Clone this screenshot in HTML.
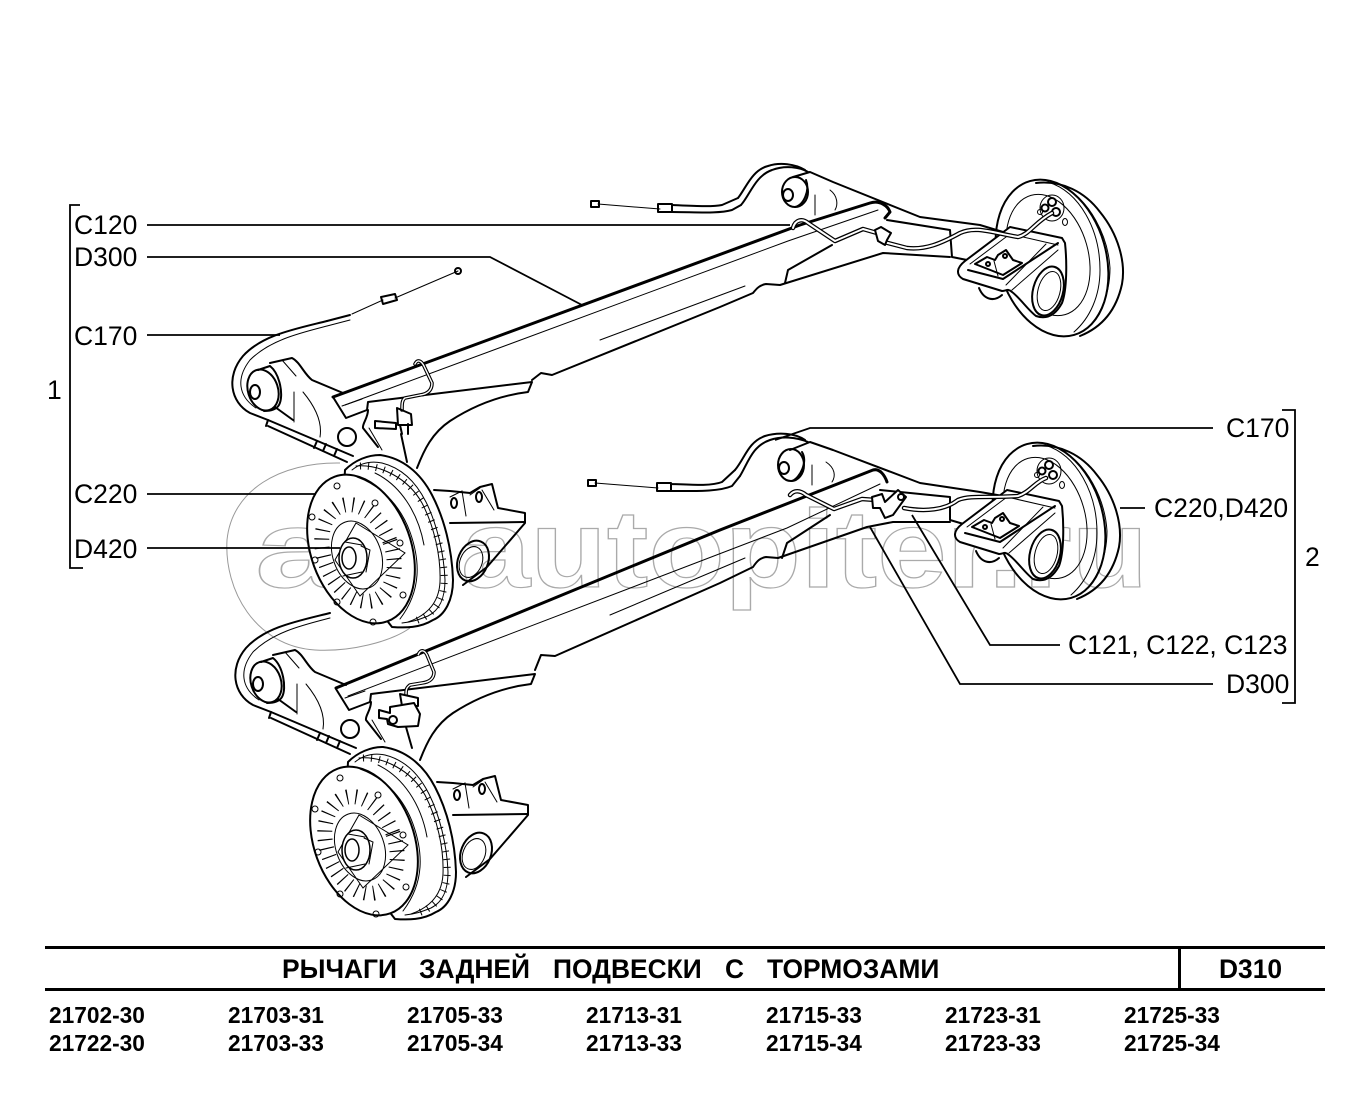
<!DOCTYPE html>
<html><head><meta charset="utf-8"><style>
html,body{margin:0;padding:0;background:#fff}
svg{display:block}
.m{fill:none;stroke:#000;stroke-width:2;stroke-linejoin:round;stroke-linecap:round}
.t{fill:none;stroke:#000;stroke-width:1;stroke-linecap:round}
.b{fill:none;stroke:#000;stroke-width:3;stroke-linejoin:round;stroke-linecap:round}
.l{fill:none;stroke:#000;stroke-width:1.8}
.w{fill:#fff;stroke:#000;stroke-width:2;stroke-linejoin:round}
.wm{fill:none;stroke:#aaa;stroke-width:1.2;font-family:"Liberation Sans",sans-serif;font-weight:bold}
text.lb{font-family:"Liberation Sans",sans-serif;font-size:26.5px;fill:#000}
text.bd{font-family:"Liberation Sans",sans-serif;font-size:26.4px;font-weight:bold;fill:#000}
text.cd{font-family:"Liberation Sans",sans-serif;font-size:22.7px;font-weight:bold;fill:#000}
</style></head><body>
<svg width="1371" height="1112" viewBox="0 0 1371 1112" xmlns="http://www.w3.org/2000/svg">
<rect width="1371" height="1112" fill="#fff"/>
<defs>
<g id="L">
  <!-- cable -->
  <path class="m" d="M327,321C295,329 262,335 243,356C226,376 230,402 250,413L268,420L353,456"/>
  <path class="t" d="M327,326C300,333 270,340 250,360C236,378 238,396 256,408"/>
  <path class="m" d="M268,426L347,462"/>
  <path class="m" d="M268,420L266,426M317,441L314,448M326,444L323,451M337,449L334,456"/>
  <!-- arm -->
  <path class="m" d="M270,363L292,358C300,362 304,374 312,380L343,393"/>
  <path class="t" d="M282,360L296,376M294,392V422M303,392C318,410 322,425 320,437"/>
  <ellipse class="w" cx="263" cy="390" rx="15" ry="21" transform="rotate(-18 263 390)"/>
  <path class="m" d="M258,370L270,366C280,374 284,396 279,405C276,410 270,411 264,411"/>
  <ellipse class="m" cx="255" cy="392" rx="5" ry="7"/>
  <path class="m" d="M275,407L293,420"/>
  <!-- plate -->
  <path class="m" d="M333,397L346,418L367,410L368,402L532,382L528,392C495,396 470,408 450,421C432,433 424,450 417,468"/>
  <path class="t" d="M342,406L362,399"/>
  <path class="m" d="M368,410C368,418 362,424 363,428L378,447"/>
  <path class="t" d="M369,428L382,450"/>
  <circle class="m" cx="347" cy="437" r="9"/>
  <!-- drum -->
  <path class="w" d="M345,470C355,460 368,455 380,455C402,458 420,472 432,495C444,518 452,548 453,580C453,600 445,615 433,620C420,628 405,628 392,627L340,560Z"/>
  <path class="t" d="M352,470C362,462 372,461 382,463C402,468 416,482 426,502C436,522 444,552 445,580C445,598 440,610 428,616C418,620 412,622 402,623"/>
  <path class="t" d="M356,466C380,464 408,478 422,503C434,526 441,556 440,582C439,602 428,615 408,622"/>
  <path fill="none" stroke="#000" stroke-width="7" stroke-dasharray="1 7" d="M360,466C385,465 410,480 424,505C436,528 446,560 444,585C442,605 430,617 412,622"/>
  <ellipse class="w" cx="361" cy="549" rx="50" ry="77" transform="rotate(-20 361 549)"/>
  <path class="t" d="M357,477C385,487 402,510 410,532C420,560 422,590 400,619M375,473C400,485 418,512 424,545"/>
  <ellipse fill="none" stroke="#000" stroke-width="15" stroke-dasharray="1.2 7.6" cx="358" cy="553" rx="34" ry="50" transform="rotate(-20 358 553)"/>
  <ellipse class="t" cx="357" cy="555" rx="24" ry="35" transform="rotate(-20 357 555)"/>
  <path class="t" d="M356,523L405,553L360,596L335,560Z"/>
  <ellipse class="w" cx="353" cy="558" rx="14" ry="20" style="stroke-width:1.5"/>
  <ellipse class="m" cx="349" cy="558" rx="7" ry="11" style="stroke-width:1.5"/>
  <path class="t" d="M345,542L362,545M343,576L362,572M361,546L370,550L366,572"/>
  <g class="t">
   <circle cx="337" cy="486" r="3"/><circle cx="375" cy="503" r="3"/><circle cx="312" cy="517" r="3"/><circle cx="400" cy="543" r="3"/><circle cx="315" cy="560" r="3"/><circle cx="403" cy="595" r="3"/><circle cx="337" cy="602" r="3"/><circle cx="373" cy="622" r="3"/>
  </g>
  <!-- bracket -->
  <path class="m" d="M434,490L450,491L470,493L480,487L492,484L498,508L525,513L525,523L487,567L463,585"/>
  <path class="m" d="M450,523L525,522"/>
  <path class="t" d="M450,497L462,491L466,516M470,495L480,488M482,490L494,510"/>
  <ellipse class="m" cx="454" cy="503" rx="3" ry="5"/><ellipse class="m" cx="479" cy="497" rx="3" ry="5"/>
  <ellipse class="m" cx="473" cy="561" rx="15" ry="21" transform="rotate(22 473 561)"/>
  <ellipse class="t" cx="471" cy="562" rx="11" ry="16" transform="rotate(22 471 562)"/>
</g>
<g id="R">
  <ellipse class="m" cx="1052" cy="258" rx="54" ry="80" transform="rotate(-16 1052 258)"/>
  <path class="m" d="M1036,183C1062,180 1085,192 1100,212C1118,234 1126,262 1122,284C1116,312 1100,328 1080,336"/>
  <path class="t" d="M1062,186C1090,200 1108,236 1110,268C1110,296 1098,322 1082,332M1048,182C1080,192 1100,230 1100,270C1100,296 1090,318 1074,332"/>
  <ellipse class="t" cx="1048" cy="255" rx="40" ry="62" transform="rotate(-16 1048 255)"/>
  <circle class="m" cx="1052" cy="202" r="4"/><circle class="m" cx="1045" cy="208" r="3.5"/><circle class="m" cx="1056" cy="212" r="4"/><circle class="t" cx="1040" cy="212" r="2.5"/><ellipse class="t" cx="1065" cy="222" rx="2.5" ry="3.5"/>
  <ellipse class="t" cx="1052" cy="208" rx="12" ry="13"/>
  <!-- bracket -->
  <path class="w" d="M1062,238L1065,243C1067,262 1067,290 1062,303C1056,314 1048,320 1036,316C1028,310 1020,298 1012,292C1008,288 1006,291 1002,291L963,279C956,275 956,268 965,261L1010,227Z"/>
  <path class="t" d="M970,264L1010,234L1058,245"/>
  <path class="m" d="M968,270L1003,279L1058,243"/>
  <path class="t" d="M1046,244L1006,285M1058,250L1012,290"/>
  <path class="m" d="M975,264L987,257L995,260L998,255L1006,250L1013,260L1022,263L1003,275Z"/>
  <path class="t" d="M994,261L998,276"/>
  <circle class="m" cx="988" cy="264" r="2"/><circle class="m" cx="1005" cy="256" r="2"/>
  <ellipse class="w" cx="1048" cy="291" rx="15" ry="25" transform="rotate(15 1048 291)"/>
  <ellipse class="t" cx="1049" cy="291" rx="11" ry="20" transform="rotate(15 1049 291)"/>
  <path class="m" d="M979,288C984,300 994,302 1002,295"/>
</g>
</defs>

<!-- watermark -->
<g>
  <path fill="none" stroke="#999" stroke-width="1" d="M340,463C280,462 232,490 227,540C224,590 255,646 315,650C350,652 390,642 410,628"/>
  <text class="wm" x="255" y="587" font-size="110" textLength="85" lengthAdjust="spacingAndGlyphs">a</text>
  <text class="wm" x="461" y="587" font-size="110" textLength="687" lengthAdjust="spacingAndGlyphs">autopiter.ru</text>
</g>

<!-- top assembly beam -->
<path class="b" d="M333,397L800,225L870,203C880,200 888,206 890,212L885,218"/>
<path class="t" d="M345,405L788,241L878,210"/>
<path class="m" d="M532,380L541,373L552,375L720,307L753,293C757,288 760,285 766,284L780,285L883,253L950,257"/>
<path class="t" d="M600,340L745,286"/>
<path class="m" d="M785,283L788,270L832,245"/>
<!-- top arm -->
<path class="m" d="M793,177L810,172L833,182L920,217L980,225L1003,232"/>
<path class="m" d="M887,220L950,230L952,257L967,260"/>
<path class="t" d="M815,195V215M830,190C838,196 838,205 835,210"/>
<ellipse class="m" cx="795" cy="192" rx="13" ry="15"/>
<ellipse class="m" cx="788" cy="195" rx="5" ry="6"/>
<path class="m" d="M806,180C810,190 804,205 795,207"/>
<use href="#R"/>
<!-- cable top right -->
<path class="t" d="M598,204L660,209"/>
<rect x="591" y="201" width="8" height="6" class="m"/>
<path class="m" d="M658,204L672,204L672,212L658,212Z"/>
<path class="m" d="M672,205C695,206 712,207 722,205L738,198"/>
<path class="m" d="M672,212C695,212 718,214 732,210L741,205"/>
<path class="m" d="M741,205C750,195 755,176 772,170C785,165 800,167 808,172M738,198C746,188 752,170 768,166C780,162 795,164 805,170"/>
<!-- pipe top -->
<path fill="none" stroke="#000" stroke-width="4.5" stroke-linejoin="round" stroke-linecap="round" d="M793,228C795,220 802,218 808,223L835,241L863,229L877,233M884,242L907,248C925,250 940,244 960,233C975,226 990,232 1018,237C1030,234 1035,222 1052,213"/>
<path fill="none" stroke="#fff" stroke-width="2" stroke-linejoin="round" stroke-linecap="round" d="M793,228C795,220 802,218 808,223L835,241L863,229L877,233M884,242L907,248C925,250 940,244 960,233C975,226 990,232 1018,237C1030,234 1035,222 1052,213"/>
<path class="w" d="M875,230L881,227L891,233L887,240L885,245L878,241Z"/>

<!-- left top assembly -->
<path class="t" d="M458,271L395,298"/>
<circle class="m" cx="458" cy="271" r="3"/>
<path class="m" d="M381,297L395,294L397,300L383,304Z"/>
<path class="t" d="M383,300L352,314"/>
<path class="m" d="M350,315L327,321"/><path class="t" d="M350,320L327,326"/>
<use href="#L"/>
<!-- pipe / clamp 1 -->
<path fill="none" stroke="#000" stroke-width="3.6" stroke-linejoin="round" stroke-linecap="round" d="M415,364C418,358 422,362 424,366L432,383C432,390 428,394 420,395L405,398C402,400 402,404 402,410"/>
<path fill="none" stroke="#fff" stroke-width="1.4" stroke-linejoin="round" stroke-linecap="round" d="M415,364C418,358 422,362 424,366L432,383C432,390 428,394 420,395L405,398C402,400 402,404 402,410"/>
<path class="m" d="M397,408L411,414L412,425L398,425ZM400,425L402,434M408,424L408,434M401,434L407,462"/>
<path class="m" d="M375,421L396,423L396,429L375,428Z"/>

<!-- bottom assembly beam -->
<path class="b" d="M336,688L720,530L873,470C880,468 885,476 887,482"/>
<path class="t" d="M348,696L787,528L880,484"/>
<path class="m" d="M535,670L541,655L555,656L720,583L753,567C757,561 760,558 766,557L778,558L867,527L893,522L950,522"/>
<path class="t" d="M610,615L745,558"/>
<path class="m" d="M782,558L787,543L830,515"/>
<!-- bottom arm -->
<path class="m" d="M790,450L810,442L833,450L920,483L980,492L1003,496"/>
<path class="m" d="M880,490L950,497L950,520L967,525"/>
<path class="t" d="M812,465V485M826,462C835,468 836,476 832,482"/>
<ellipse class="m" cx="791" cy="465" rx="13" ry="16"/>
<ellipse class="m" cx="784" cy="468" rx="5" ry="6"/>
<path class="m" d="M802,452C808,462 800,478 792,481"/>
<use href="#R" x="-3" y="263"/>
<path class="t" d="M595,483L658,488"/>
<rect x="588" y="480" width="8" height="6" class="m"/>
<path class="m" d="M657,483L671,483L671,491L657,491Z"/>
<path class="m" d="M671,484C695,485 712,486 722,482L735,470M671,491C695,491 718,492 732,486L740,476"/>
<path class="m" d="M740,476C748,463 752,446 770,440C782,436 796,437 808,442M735,470C745,458 748,442 765,436C778,432 795,433 805,440"/>
<path fill="none" stroke="#000" stroke-width="4.5" stroke-linejoin="round" stroke-linecap="round" d="M790,495C794,490 800,490 806,495L834,509L862,499L876,500M904,508C925,512 945,510 958,500C970,495 990,498 1018,496C1030,492 1035,482 1046,478"/>
<path fill="none" stroke="#fff" stroke-width="2" stroke-linejoin="round" stroke-linecap="round" d="M790,495C794,490 800,490 806,495L834,509L862,499L876,500M904,508C925,512 945,510 958,500C970,495 990,498 1018,496C1030,492 1035,482 1046,478"/>
<path class="w" d="M872,497L882,494L885,502L898,490L906,497L893,515L885,518L880,508L873,508Z"/>
<circle class="m" cx="901" cy="497" r="3"/>

<use href="#L" x="3" y="292"/>
<path fill="none" stroke="#000" stroke-width="3.6" stroke-linejoin="round" d="M418,655C421,648 425,651 427,655L434,672C434,678 430,682 422,683L410,685C406,688 406,690 406,696"/>
<path fill="none" stroke="#fff" stroke-width="1.4" stroke-linejoin="round" d="M418,655C421,648 425,651 427,655L434,672C434,678 430,682 422,683L410,685C406,688 406,690 406,696"/>
<path class="m" d="M400,694L418,698L418,706L402,706Z"/>
<path class="w" d="M379,710L390,713L390,707L414,703L420,714L418,726L398,727L388,724L387,719L379,718Z"/>
<circle class="m" cx="393" cy="720" r="4"/>
<path class="m" d="M406,727L412,748"/>

<!-- leaders -->
<g class="l">
<path d="M147,225H790"/>
<path d="M147,257H490L582,305"/>
<path d="M147,335H280"/>
<path d="M147,494H316"/>
<path d="M147,548H340"/>
<path d="M1213,428H810L775,440"/>
<path d="M1145,508H1120"/>
<path d="M1060,645H990L912,515"/>
<path d="M1213,684H960L870,527"/>
<path d="M80,205H70V568H83"/>
<path d="M1282,410H1295V703H1282"/>
</g>
<g>
<text class="lb" x="74" y="234">C120</text>
<text class="lb" x="74" y="266">D300</text>
<text class="lb" x="74" y="345">C170</text>
<text class="lb" x="74" y="503">C220</text>
<text class="lb" x="74" y="558">D420</text>
<text class="lb" x="47" y="399">1</text>
<text class="lb" x="1226" y="437">C170</text>
<text class="lb" x="1154" y="517">C220,D420</text>
<text class="lb" x="1068" y="654">C121, C122, C123</text>
<text class="lb" x="1226" y="693">D300</text>
<text class="lb" x="1305" y="566">2</text>
</g>
<!-- title block -->
<path d="M45,947.5H1325M45,989.5H1325M1179.5,947V989" fill="none" stroke="#000" stroke-width="3"/>
<text class="bd" x="282" y="978">РЫЧАГИ</text>
<text class="bd" x="419" y="978">ЗАДНЕЙ</text>
<text class="bd" x="553" y="978">ПОДВЕСКИ</text>
<text class="bd" x="725" y="978">С</text>
<text class="bd" x="767" y="978">ТОРМОЗАМИ</text>
<text class="bd" x="1219" y="978">D310</text>
<g>
<text class="cd" x="49" y="1023">21702-30</text><text class="cd" x="49" y="1051">21722-30</text>
<text class="cd" x="228" y="1023">21703-31</text><text class="cd" x="228" y="1051">21703-33</text>
<text class="cd" x="407" y="1023">21705-33</text><text class="cd" x="407" y="1051">21705-34</text>
<text class="cd" x="586" y="1023">21713-31</text><text class="cd" x="586" y="1051">21713-33</text>
<text class="cd" x="766" y="1023">21715-33</text><text class="cd" x="766" y="1051">21715-34</text>
<text class="cd" x="945" y="1023">21723-31</text><text class="cd" x="945" y="1051">21723-33</text>
<text class="cd" x="1124" y="1023">21725-33</text><text class="cd" x="1124" y="1051">21725-34</text>
</g>
</svg>
</body></html>
